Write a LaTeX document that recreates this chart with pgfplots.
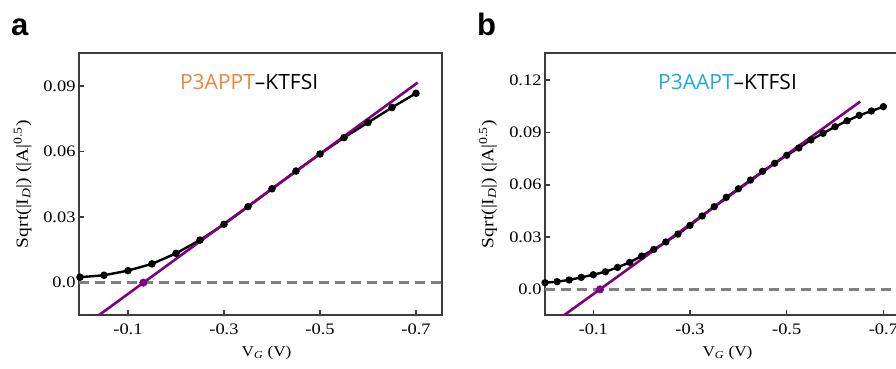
\documentclass[border=0pt]{standalone}
\usepackage{fontspec}
\setmainfont[FakeStretch=1.15]{Liberation Serif}
\setsansfont{Liberation Sans}
\newfontfamily\osans{Open Sans}
\usepackage{pgfplots}
\pgfplotsset{compat=1.18}
\definecolor{porange}{RGB}{236,132,60}
\definecolor{pblue}{RGB}{32,168,224}
\definecolor{fitpurple}{RGB}{128,0,128}
\definecolor{dashgray}{RGB}{128,128,128}
\definecolor{framegray}{RGB}{60,60,60}
\pgfplotsset{
  myax/.style={
    scale only axis, height=261.7pt,
    x dir=reverse,
    axis line style={line width=1.8pt, framegray},
    tick align=inside, tick pos=left,
    major tick length=5pt,
    tick style={line width=1.5pt, framegray},
    scaled ticks=false,
    /pgf/number format/assume math mode=true,
    ticklabel style={font=\fontsize{16}{19}\selectfont},
    xtick={-0.1,-0.3,-0.5,-0.7}, xticklabels={-0.1,-0.3,-0.5,-0.7},
    xticklabel style={yshift=-5pt},
    xlabel={V\textsubscript{\textit{G}} (V)},
    ylabel={Sqrt(|I\textsubscript{\textit{D}}|) (|A|\textsuperscript{0.5})},
    xlabel style={font=\fontsize{15}{18}\selectfont},
    ylabel style={font=\fontsize{17}{20}\selectfont, at={(axis description cs:-0.1556,0.5)}, anchor=center},
  }
}
\pgfplotstableread{
x y
0 0.0025
-0.05 0.0034
-0.1 0.0055
-0.15 0.0086
-0.2 0.0134
-0.25 0.0195
-0.3 0.0267
-0.35 0.0348
-0.4 0.0430
-0.45 0.0511
-0.5 0.0589
-0.55 0.0664
-0.6 0.0733
-0.65 0.0802
-0.7 0.0867
}\dataA
\pgfplotstableread{
x y
0 0.0038
-0.025 0.0044
-0.05 0.0054
-0.075 0.0069
-0.1 0.0084
-0.125 0.0101
-0.15 0.0126
-0.175 0.0155
-0.2 0.0191
-0.225 0.0229
-0.25 0.0272
-0.275 0.0317
-0.3 0.0367
-0.325 0.0421
-0.35 0.0474
-0.375 0.0528
-0.4 0.0577
-0.425 0.0627
-0.45 0.0677
-0.475 0.0723
-0.5 0.0769
-0.525 0.0811
-0.55 0.0857
-0.575 0.0895
-0.6 0.0933
-0.625 0.0967
-0.65 0.0998
-0.675 0.1023
-0.7 0.1048
}\dataB
\begin{document}
\begin{tikzpicture}
\begin{axis}[myax, at={(79pt,53pt)}, anchor=south west, width=362.7pt,
  xmin=-0.7535, xmax=0.002, ymin=-0.0148, ymax=0.105,
  ytick={0,0.03,0.06,0.09}, yticklabels={0.0,0.03,0.06,0.09},
  xlabel style={at={(axis description cs:0.517,-0.145)}, anchor=center}]
\addplot[dashgray, line width=2.8pt, dash pattern=on 10pt off 6pt] coordinates {(0.002,0) (-0.8,0)};
\addplot[black, line width=2.4pt, mark=*, mark size=2.5pt] table[x=x,y=y] {\dataA};
\addplot[fitpurple, line width=2.6pt] coordinates {(-0.03,-0.0164) (-0.7035,0.0916)};
\addplot[fitpurple, only marks, mark=*, mark size=3.8pt] coordinates {(-0.132,0)};
\node[anchor=base, font=\osans\fontsize{21}{21}\selectfont] at (axis description cs:0.469,0.860) {\textcolor{porange}{P3APPT}–KTFSI};
\end{axis}
\begin{axis}[myax, at={(545pt,53pt)}, anchor=south west, width=365pt,
  xmin=-0.755, xmax=0.0, ymin=-0.0147, ymax=0.1354,
  ytick={0,0.03,0.06,0.09,0.12}, yticklabels={0.0,0.03,0.06,0.09,0.12},
  xlabel style={at={(axis description cs:0.5,-0.145)}, anchor=center}]
\addplot[dashgray, line width=2.8pt, dash pattern=on 10pt off 6pt] coordinates {(0.0,0) (-0.8,0)};
\addplot[black, line width=2.4pt, mark=*, mark size=2.4pt] table[x=x,y=y] {\dataB};
\addplot[fitpurple, line width=2.6pt] coordinates {(-0.03,-0.0167) (-0.652,0.1077)};
\addplot[fitpurple, only marks, mark=*, mark size=3.8pt] coordinates {(-0.1137,0)};
\node[anchor=base, font=\osans\fontsize{21}{21}\selectfont] at (axis description cs:0.5,0.860) {\textcolor{pblue}{P3AAPT}–KTFSI};
\end{axis}
\node[anchor=base west, font=\sffamily\bfseries\fontsize{31}{31}\selectfont, inner sep=0pt] at (11pt,333pt) {a};
\node[anchor=base west, font=\sffamily\bfseries\fontsize{31}{31}\selectfont, inner sep=0pt] at (477pt,333pt) {b};
\pgfresetboundingbox
\path[use as bounding box] (0pt,0pt) rectangle (896pt,368pt);
\end{tikzpicture}
\end{document}
